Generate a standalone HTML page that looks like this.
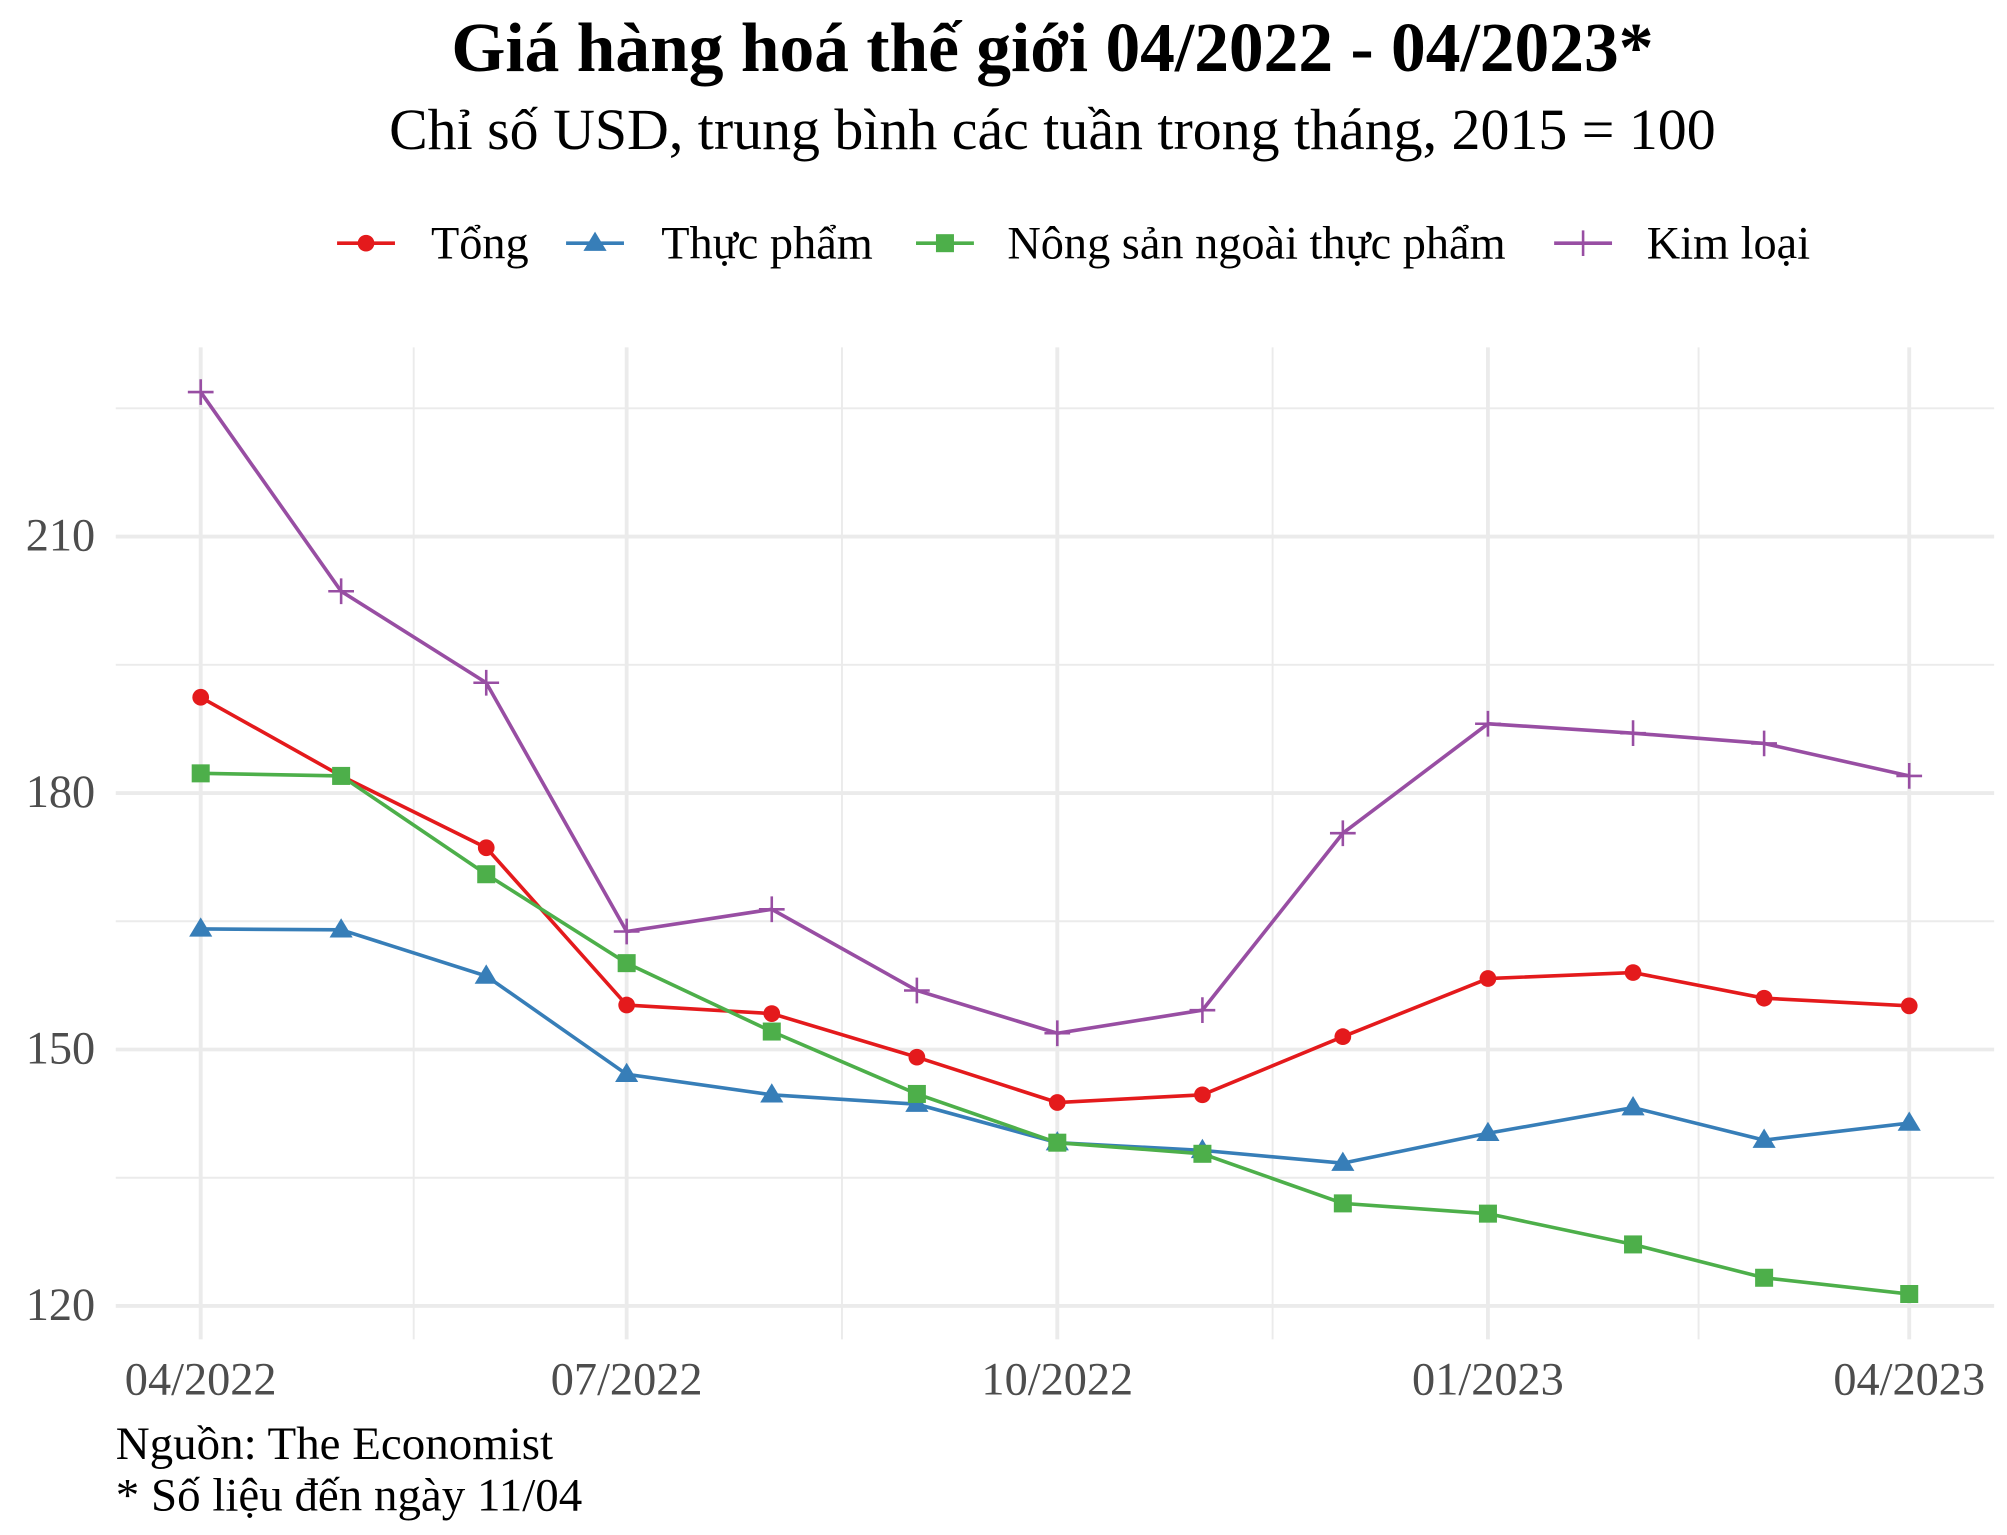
<!DOCTYPE html>
<html><head><meta charset="utf-8"><style>
html,body{margin:0;padding:0;background:#fff}
svg{display:block}
text{font-family:"Liberation Serif","DejaVu Serif",serif}
</style></head><body>
<svg id="chart" width="2007" height="1535" viewBox="0 0 1560 1193" preserveAspectRatio="none" xmlns="http://www.w3.org/2000/svg">
<text x="818" y="55" text-anchor="middle" font-size="54" font-weight="bold" fill="#000">Giá hàng hoá thế giới 04/2022 - 04/2023*</text>
<text x="818" y="116" text-anchor="middle" font-size="45" fill="#000">Chỉ số USD, trung bình các tuần trong tháng, 2015 = 100</text>
<g id="grid"></g>
<g id="axes"></g>
<g id="series"></g>
<g id="legend"></g>
<text x="90" y="1134" font-size="36.5" fill="#000">Nguồn: The Economist</text>
<text x="90" y="1174" font-size="36.5" fill="#000">* Số liệu đến ngày 11/04</text>
</svg>
<script>
const dayOffsets = [0,30,61,91,122,153,183,214,244,275,306,334,365];
const tong = [191.2,182.0,173.6,155.2,154.2,149.1,143.8,144.7,151.5,158.3,159.0,156.0,155.1];
const thucPham = [164.1,164.0,158.6,147.1,144.7,143.6,139.1,138.2,136.7,140.2,143.2,139.4,141.4];
const nongSan = [182.3,182.0,170.5,160.1,152.1,144.8,139.1,137.8,132.0,130.8,127.2,123.3,121.4];
const kimLoai = [226.9,203.6,192.9,163.8,166.4,156.9,151.9,154.6,175.3,188.1,187.0,185.8,182.0];
const yTicks = [120,150,180,210];
const yMinor = [135,165,195,225];
const xTickDays = [0,91,183,275,365];
const xTickLabels = ["04/2022","07/2022","10/2022","01/2023","04/2023"];
const seriesNames = ["Tổng","Thực phẩm","Nông sản ngoài thực phẩm","Kim loại"];

const NS="http://www.w3.org/2000/svg";
const X0=156,X1=1484,PL=90,PR=1550,PT=270,PB=1041;
function xs(d){return X0+d*(X1-X0)/365;}
function ys(v){return 1015-(v-120)*(1015-417)/90;}
function mk(tag,attrs,parent){const e=document.createElementNS(NS,tag);for(const k in attrs)e.setAttribute(k,attrs[k]);parent.appendChild(e);return e;}
const grid=document.getElementById('grid'),axes=document.getElementById('axes'),ser=document.getElementById('series'),leg=document.getElementById('legend');

yMinor.forEach(v=>{const l=mk('line',{x1:PL,x2:PR,y1:ys(v),y2:ys(v),stroke:'#ebebeb','stroke-width':1.5},grid);

});
for(let i=0;i<xTickDays.length-1;i++){const m=(xTickDays[i]+xTickDays[i+1])/2;const l=mk('line',{x1:xs(m),x2:xs(m),y1:PT,y2:PB,stroke:'#ebebeb','stroke-width':1.5},grid);

}
yTicks.forEach(v=>{const l=mk('line',{x1:PL,x2:PR,y1:ys(v),y2:ys(v),stroke:'#ebebeb','stroke-width':3},grid);


const t=mk('text',{x:74,y:ys(v)+11,'text-anchor':'end','font-size':36,fill:'#4d4d4d'},axes);t.textContent=v;

});
xTickDays.forEach((d,i)=>{const l=mk('line',{x1:xs(d),x2:xs(d),y1:PT,y2:PB,stroke:'#ebebeb','stroke-width':3},grid);


const t=mk('text',{x:xs(d),y:1084,'text-anchor':'middle','font-size':36,fill:'#4d4d4d'},axes);t.textContent=xTickLabels[i];

});

function marker(shape,x,y,c,parent){
 let e;
 if(shape==='circle')e=mk('circle',{cx:x,cy:y,r:6.5,fill:c},parent);
 else if(shape==='tri')e=mk('polygon',{points:`${x},${y-9} ${x-9},${y+6} ${x+9},${y+6}`,fill:c},parent);
 else if(shape==='square')e=mk('rect',{x:x-7,y:y-7,width:14,height:14,fill:c},parent);
 else e=mk('path',{d:`M${x-10},${y}H${x+10}M${x},${y-10}V${y+10}`,stroke:c,'stroke-width':2,fill:'none'},parent);
 return e;
}
const defs=[[tong,'#E41A1C','circle','tong'],[thucPham,'#377EB8','tri','thuc-pham'],[nongSan,'#4DAF4A','square','nong-san'],[kimLoai,'#984EA3','plus','kim-loai']];
defs.forEach(([vals,c,sh,nm])=>{
 const g=mk('g',{},ser);
 
 
 const p=mk('polyline',{points:vals.map((v,i)=>xs(dayOffsets[i])+','+ys(v)).join(' '),fill:'none',stroke:c,'stroke-width':2.8},g);
 
 
 vals.forEach((v,i)=>{const m=marker(sh,xs(dayOffsets[i]),ys(v),c,g);
  
  });
});
const legX=[[262,335],[440,514],[712,783],[1208,1280]];
defs.forEach(([v,c,sh,nm],i)=>{
 const g=mk('g',{},leg);
 
 
 mk('line',{x1:legX[i][0],x2:legX[i][0]+45,y1:189,y2:189,stroke:c,'stroke-width':2.8},g);
 marker(sh,legX[i][0]+22.5,189,c,g);
 const t=mk('text',{x:legX[i][1],y:201,'font-size':36,fill:'#000'},g);t.textContent=seriesNames[i];
});
</script>
</body></html>
